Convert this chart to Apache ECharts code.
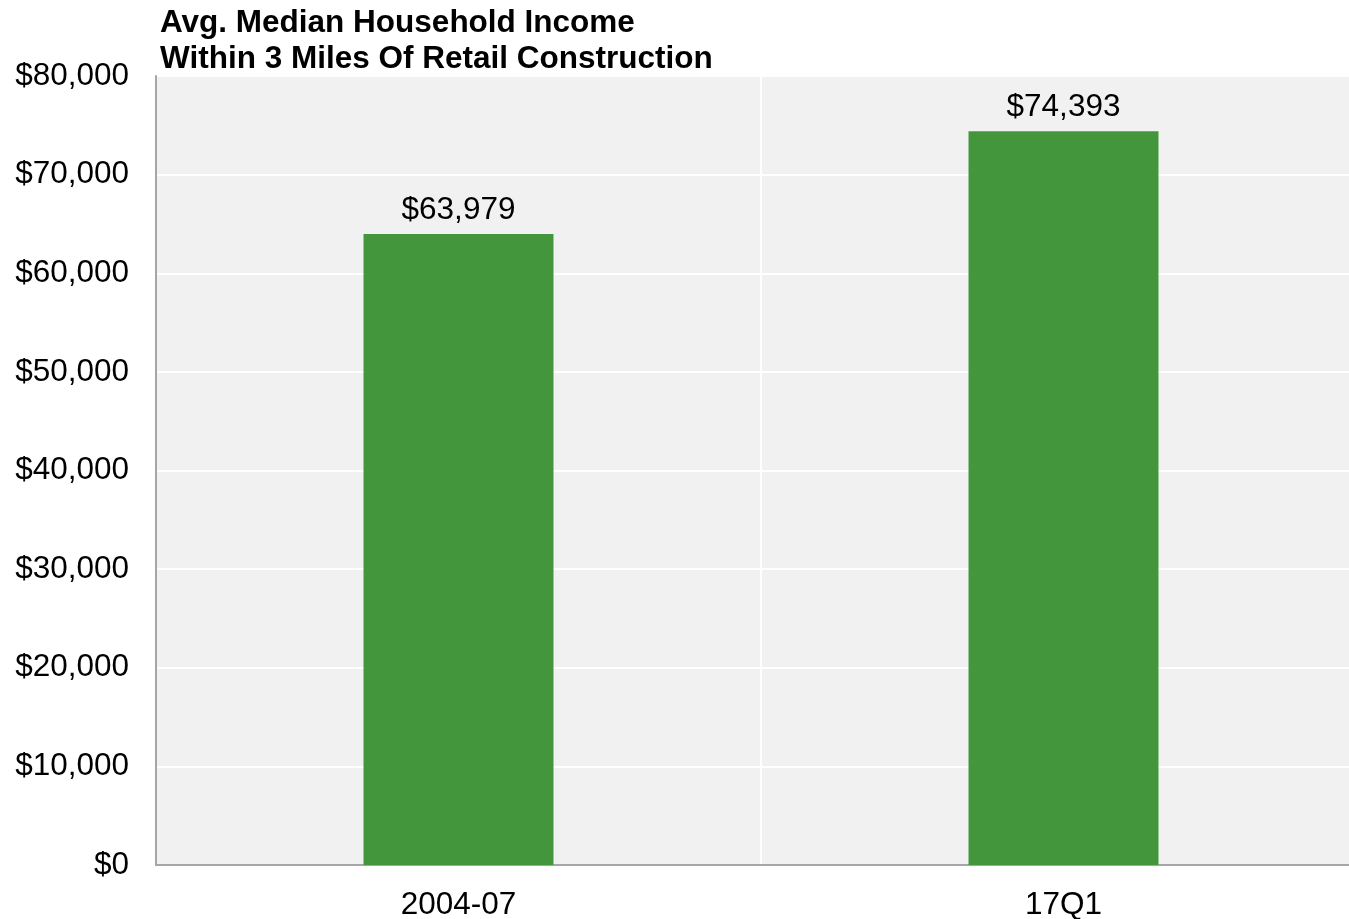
<!DOCTYPE html>
<html>
<head>
<meta charset="utf-8">
<script src="https://cdn.jsdelivr.net/npm/echarts@6/dist/echarts.min.js"></script>
<style>
  html, body { margin: 0; padding: 0; background: #ffffff; }
  #chart { width: 1349px; height: 919px; }
</style>
</head>
<body>
<div id="chart"></div>
<script>
// Chart data
const titleLines = ['Avg. Median Household Income', 'Within 3 Miles Of Retail Construction'];
const categories = ['2004-07', '17Q1'];
const incomeValues = [63979, 74393];
const yMin = 0;
const yMax = 80000;
const yStep = 10000;

function money(v) {
  const s = String(Math.round(v)).replace(/\B(?=(\d{3})+(?!\d))/g, ',');
  return '$' + s;
}

const FONT = '"Liberation Sans", Arial, Helvetica, sans-serif';

const chart = echarts.init(document.getElementById('chart'), null, { renderer: 'canvas' });
chart.setOption({
  animation: false,
  backgroundColor: '#ffffff',
  title: {
    text: titleLines.join('\n'),
    left: 160,
    top: 5,
    padding: 0,
    textStyle: {
      fontFamily: FONT,
      fontWeight: 'bold',
      fontSize: 31.5,
      lineHeight: 36,
      color: '#000000'
    }
  },
  grid: {
    // the plot runs slightly past the right edge of the canvas
    left: 156,
    right: -17,
    top: 76,
    bottom: 54,
    outerBoundsMode: 'none',
    containLabel: false,
    show: true,
    backgroundColor: '#f1f1f1',
    borderWidth: 0
  },
  xAxis: {
    type: 'category',
    data: categories,
    axisLine: { show: true, lineStyle: { color: '#a6a6a6', width: 2 } },
    axisTick: { show: false },
    axisLabel: {
      margin: 24,
      fontFamily: FONT,
      fontSize: 31.5,
      color: '#000000'
    },
    splitLine: { show: true, lineStyle: { color: '#ffffff', width: 2 } }
  },
  yAxis: {
    type: 'value',
    min: yMin,
    max: yMax,
    interval: yStep,
    axisLine: { show: true, lineStyle: { color: '#a6a6a6', width: 2 } },
    axisTick: { show: false },
    axisLabel: {
      margin: 27,
      fontFamily: FONT,
      fontSize: 31.5,
      color: '#000000',
      padding: [4, 0, 0, 0],
      formatter: money
    },
    splitLine: { show: true, lineStyle: { color: '#ffffff', width: 2 } }
  },
  series: [{
    type: 'bar',
    data: incomeValues,
    barWidth: '31.4%',
    itemStyle: { color: '#43963b' },
    label: {
      show: true,
      position: 'top',
      distance: 8,
      fontFamily: FONT,
      fontSize: 31.5,
      color: '#000000',
      formatter: p => money(p.value)
    }
  }]
});
</script>
</body>
</html>
